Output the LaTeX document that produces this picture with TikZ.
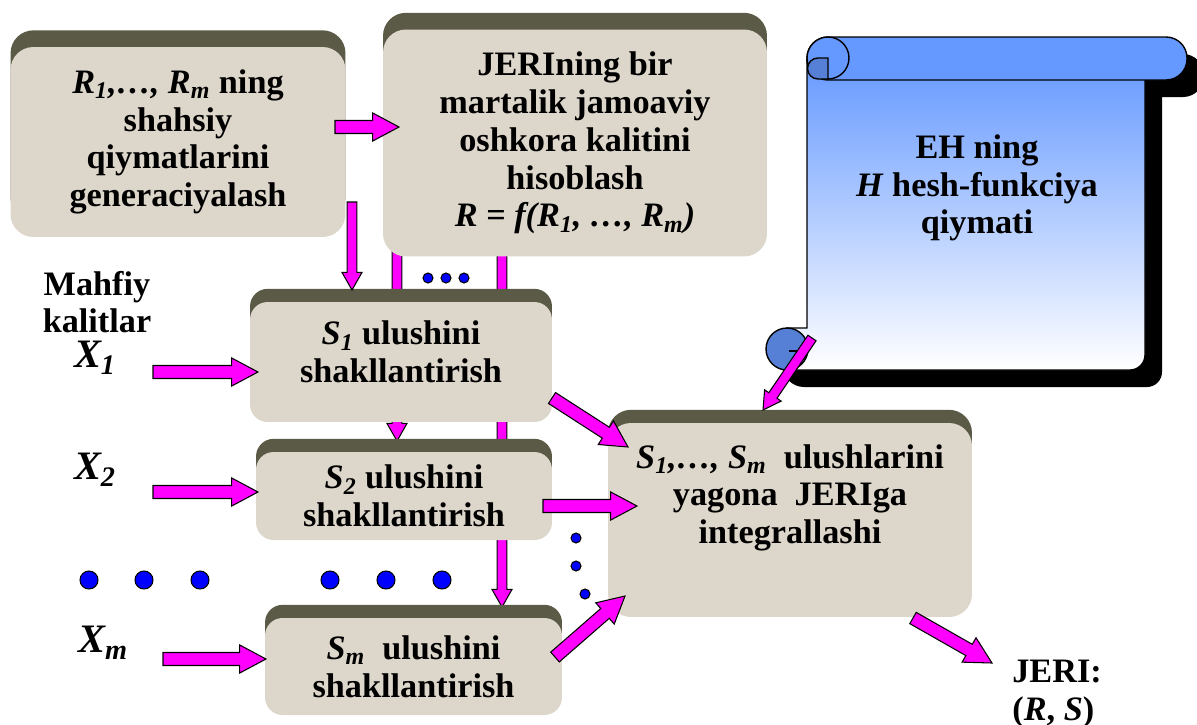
\documentclass[tikz,border=0pt]{standalone}
\usepackage{fontspec}
\setmainfont{Liberation Serif}
\usetikzlibrary{calc,backgrounds,shadows}

\definecolor{boxfill}{RGB}{221,214,202}
\definecolor{boxtop}{RGB}{90,90,70}
\definecolor{arrowpink}{RGB}{255,0,255}
\definecolor{scrollblue}{RGB}{102,153,255}
\definecolor{scrolldark}{RGB}{85,128,214}
\definecolor{dotblue}{RGB}{0,0,255}

\newcommand{\ivar}[2]{\textit{#1\textsubscript{#2}}}

\tikzset{
  blockarrow/.style n args={3}{draw=black, fill=arrowpink, line width=0.6pt,
    to path={let \p1=($(\tikztotarget)-(\tikztostart)$),
      \n1={atan2(\y1,\x1)}, \n2={veclen(\x1,\y1)-#3}, \n3={\n1+90} in
      ($(\tikztostart)+(\n3:#1)$) -- ($(\tikztostart)+(\n1:\n2)+(\n3:#1)$)
      -- ($(\tikztostart)+(\n1:\n2)+(\n3:#2)$) -- (\tikztotarget)
      -- ($(\tikztostart)+(\n1:\n2)+(\n3:-#2)$) -- ($(\tikztostart)+(\n1:\n2)+(\n3:-#1)$)
      -- ($(\tikztostart)+(\n3:-#1)$) -- cycle}},
  fat/.style={blockarrow={3.7pt}{8pt}{15pt}},
  slim/.style={blockarrow={2.8pt}{5.7pt}{10pt}}
}

\begin{document}
\begin{tikzpicture}[x=0.02cm, y=-0.02cm,
    txt/.style={font=\fontsize{19.5}{21.5}\selectfont\bfseries, align=center},
    xlab/.style={font=\fontsize{23}{26}\selectfont\bfseries, inner sep=0pt},
    box/.style={txt, fill=boxfill, rounded corners=10pt, inner sep=2pt,
                general shadow={fill=boxtop, shadow yshift=#1}},
    box/.default=7.5pt,
    dot/.style={fill=dotblue, draw=black, line width=0.6pt},
    scroll/.style={draw=black, line width=0.8pt}]
  \useasboundingbox (0,0) rectangle (1197,724);

  % boxes
  \node[box=9.5pt, rounded corners=13pt, minimum width=6.7cm, minimum height=3.8cm] (gen) at (178,142)
       {\textit{R\textsubscript{1},…, R\textsubscript{m}} ning\\shahsiy\\qiymatlarini\\generaciyalash};
  \node[box=9.5pt, rounded corners=13pt, minimum width=7.68cm, minimum height=4.54cm] (pub) at (575,143)
       {JERIning bir\\martalik jamoaviy\\oshkora kalitini\\hisoblash\\\textit{R = f(R\textsubscript{1}, …, R\textsubscript{m})}};
  \node[box, minimum width=6.04cm, minimum height=2.4cm] (s1) at (401,362)
       {\ivar{S}{1} ulushini\\shakllantirish\\[-10pt]\mbox{}};
  \node[box, minimum width=5.92cm, minimum height=1.76cm] (s2) at (404,496)
       {\ivar{S}{2} ulushini\\shakllantirish};
  \node[box, minimum width=5.94cm, minimum height=1.94cm] (sm) at (413.5,666.5)
       {\ivar{S}{m}\ \ ulushini\\shakllantirish};
  \node[box, rounded corners=13pt, minimum width=7.28cm, minimum height=3.88cm] (integ) at (790,520)
       {\textit{S\textsubscript{1},…, S\textsubscript{m}}\ \ ulushlarini\\yagona\ \ JERIga\\integrallashi\\[8pt]\mbox{}};

  % scroll
  \fill[black, shift={(17,17)}, rounded corners=0.42cm] (807,37) rectangle (1187,80);
  \fill[black, shift={(17,17)}] (807,60) -- (807,328) -- (787,328) -- (787,370) -- (1130,370)
       arc[start angle=270, end angle=360, radius=0.3cm] -- (1145,60) -- cycle;
  \fill[black, shift={(17,17)}] (787,349) circle[radius=0.42cm];
  \draw[scroll, top color=scrollblue, bottom color=white] (807,60) -- (807,328) -- (787,328) -- (787,370) -- (1130,370)
       arc[start angle=270, end angle=360, radius=0.3cm] -- (1145,60) -- cycle;
  \draw[scroll, fill=scrollblue, rounded corners=0.42cm] (807,37) rectangle (1187,80);
  \draw[scroll, fill=scrollblue] (828,58) circle[radius=0.42cm];
  \draw[scroll, fill=scrolldark] (828,58) -- (818,58) arc[start angle=90, end angle=270, radius=0.21cm] -- (828,79) -- cycle;
  \draw[scroll, fill=scrolldark] (787,349) circle[radius=0.42cm];
  \draw[scroll] (789,351) -- (806,351);
  \node[txt] (eh) at (977,188) {EH ning\\\textit{H} hesh-funkciya\\qiymati};

  % labels
  \node[txt, inner sep=0pt] (keys) at (97,302) {Mahfiy\\kalitlar};
  \node[xlab] (x1) at (95,358) {\ivar{X}{1}};
  \node[xlab] (x2) at (95,470) {\ivar{X}{2}};
  \node[xlab] (xm) at (103,643) {\ivar{X}{m}};
  \node[txt, align=left, anchor=west, inner sep=0pt] (jeri) at (1012,694) {JERI:\\(\textit{R}, \textit{S})};

  % dots
  \foreach \x in {89,144,200,330,386,442}
    \draw[dot] (\x,580) circle[radius=0.18cm];
  \foreach \x in {428,446,464}
    \draw[dot] (\x,278) circle[radius=0.1cm];
  \foreach \p in {(576,538),(576,566),(585,594)}
    \draw[dot] \p circle[radius=0.1cm];

  % arrow ends
  \coordinate (genr) at (335,127);  \coordinate (publ) at (399,127);
  \coordinate (genb) at (352,202);  \coordinate (s1t) at (352,290);
  \coordinate (pubbl) at (397,240); \coordinate (s2t) at (397,441);
  \coordinate (pubbr) at (502,240); \coordinate (smt) at (502,607);
  \coordinate (k1) at (153,372);    \coordinate (s1l) at (258,372);
  \coordinate (k2) at (153,492);    \coordinate (s2l) at (258,492);
  \coordinate (km) at (163,659);    \coordinate (sml) at (266,659);
  \coordinate (s1r) at (552,398);   \coordinate (in1) at (628,447);
  \coordinate (s2r) at (543,506);   \coordinate (in2) at (637,506);
  \coordinate (smr) at (555,657);   \coordinate (in3) at (625,596);
  \coordinate (ehb) at (812,338);   \coordinate (in4) at (763,410);
  \coordinate (intb) at (913,618);  \coordinate (res) at (992,663);

  \begin{scope}[on background layer]
    \draw[slim] (pubbl) to (s2t);
    \draw[slim] (pubbr) to (smt);
  \end{scope}

  \draw[fat] (genr) to (publ);
  \draw[slim] (genb) to (s1t);
  \draw[fat] (k1) to (s1l);
  \draw[fat] (k2) to (s2l);
  \draw[fat] (km) to (sml);
  \draw[fat] (s1r) to (in1);
  \draw[fat] (s2r) to (in2);
  \draw[fat] (smr) to (in3);
  \draw[slim] (ehb) to (in4);
  \draw[fat] (intb) to (res);
\end{tikzpicture}
\end{document}
